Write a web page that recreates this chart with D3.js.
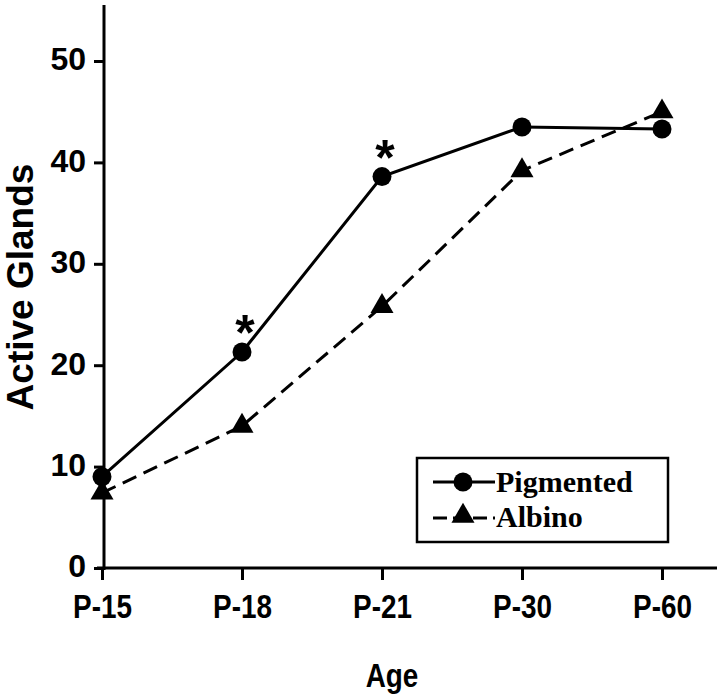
<!DOCTYPE html>
<meta charset="utf-8">
<body style="margin:0;background:#fff">
<script src="https://d3js.org/d3.v7.min.js"></script>
<style>
  .tick-x { font-family: "Liberation Sans", Arial, sans-serif; font-weight: bold; font-size: 34px; }
  .tick-y { font-family: "Liberation Sans", Arial, sans-serif; font-weight: bold; font-size: 32px; }
  .title-y { font-family: "Liberation Sans", Arial, sans-serif; font-weight: bold; font-size: 37px; }
  .star { font-family: "Liberation Sans", Arial, sans-serif; font-weight: bold; font-size: 50px; }
  .legend { font-family: "Liberation Serif", "Times New Roman", serif; font-weight: bold; font-size: 30px; }
</style>
<script>
var ages = ["P-15", "P-18", "P-21", "P-30", "P-60"];
var pigmented = [9.0, 21.3, 38.6, 43.5, 43.3];
var albino = [7.4, 14.0, 25.8, 39.2, 45.0];
var starred = ["P-18", "P-21"];
var yTicks = [0, 10, 20, 30, 40, 50];

var width = 720, height = 700;

var svg = d3.select("body").append("svg")
    .attr("width", width)
    .attr("height", height);

var x = d3.scalePoint()
    .domain(ages)
    .range([102, 662]);

var y = d3.scaleLinear()
    .domain([0, 50])
    .range([568, 61]);

// axes
var xAxis = d3.axisBottom(x).tickSize(12);
var gx = svg.append("g")
    .attr("transform", "translate(0,568)")
    .call(xAxis);
gx.select(".domain").attr("d", "M97,0H717").attr("stroke-width", 3);
gx.selectAll(".tick line").attr("stroke-width", 3);
// narrow-looking labels: squeeze horizontally
gx.selectAll(".tick text").attr("class", "tick-x").attr("fill", "#000")
    .attr("font-size", null).attr("font-family", null)
    .attr("y", null).attr("dy", null)
    .attr("transform", "translate(0,50) scale(0.82,1)");

var yAxis = d3.axisLeft(y).tickValues(yTicks).tickSize(10).tickPadding(8);
var gy = svg.append("g")
    .attr("transform", "translate(104,0)")
    .call(yAxis);
gy.select(".domain").attr("d", "M0,5V570").attr("stroke-width", 3);
gy.selectAll(".tick line").attr("stroke-width", 3);
gy.selectAll(".tick text").attr("class", "tick-y").attr("fill", "#000")
    .attr("font-size", null).attr("font-family", null).attr("dy", "0.28em");

// axis titles
svg.append("text")
    .attr("class", "tick-x")
    .attr("transform", "translate(392,687) scale(0.82,1)")
    .attr("text-anchor", "middle")
    .text("Age");

svg.append("text")
    .attr("class", "title-y")
    .attr("transform", "translate(33,287) rotate(-90)")
    .attr("text-anchor", "middle")
    .text("Active Glands");

// lines
var line = d3.line()
    .x(function(d, i) { return x(ages[i]); })
    .y(function(d) { return y(d); });

svg.append("path")
    .datum(albino)
    .attr("d", line)
    .attr("fill", "none")
    .attr("stroke", "#000")
    .attr("stroke-width", 3)
    .attr("stroke-dasharray", "15,8");

svg.append("path")
    .datum(pigmented)
    .attr("d", line)
    .attr("fill", "none")
    .attr("stroke", "#000")
    .attr("stroke-width", 3);

var tri = d3.symbol().type(d3.symbolTriangle).size(230);

svg.selectAll(".tri")
    .data(albino)
    .enter().append("path")
    .attr("class", "tri")
    .attr("d", tri)
    .attr("transform", function(d, i) { return "translate(" + x(ages[i]) + "," + y(d) + ")"; })
    .attr("fill", "#000");

svg.selectAll(".dot")
    .data(pigmented)
    .enter().append("circle")
    .attr("class", "dot")
    .attr("cx", function(d, i) { return x(ages[i]); })
    .attr("cy", function(d) { return y(d); })
    .attr("r", 9.5)
    .attr("fill", "#000");

// significance stars
svg.selectAll(".star")
    .data(starred)
    .enter().append("text")
    .attr("class", "star")
    .attr("text-anchor", "middle")
    .attr("x", function(d) { return x(d) + 3; })
    .attr("y", function(d) { return y(pigmented[ages.indexOf(d)]) - 2; })
    .text("*");

// legend
var lg = svg.append("g").attr("transform", "translate(417,458)");
lg.append("rect")
    .attr("width", 251).attr("height", 84)
    .attr("fill", "none").attr("stroke", "#000").attr("stroke-width", 2.5);

lg.append("line").attr("x1", 16).attr("x2", 78).attr("y1", 24).attr("y2", 24)
    .attr("stroke", "#000").attr("stroke-width", 3);
lg.append("circle").attr("cx", 46).attr("cy", 24).attr("r", 9.5).attr("fill", "#000");
lg.append("text").attr("class", "legend").attr("x", 79).attr("y", 34).text("Pigmented");

lg.append("line").attr("x1", 16).attr("x2", 78).attr("y1", 60).attr("y2", 60)
    .attr("stroke", "#000").attr("stroke-width", 3).attr("stroke-dasharray", "14,6");
lg.append("path").attr("d", tri).attr("transform", "translate(46,58)").attr("fill", "#000");
lg.append("text").attr("class", "legend").attr("x", 79).attr("y", 69).text("Albino");
</script>
</body>
